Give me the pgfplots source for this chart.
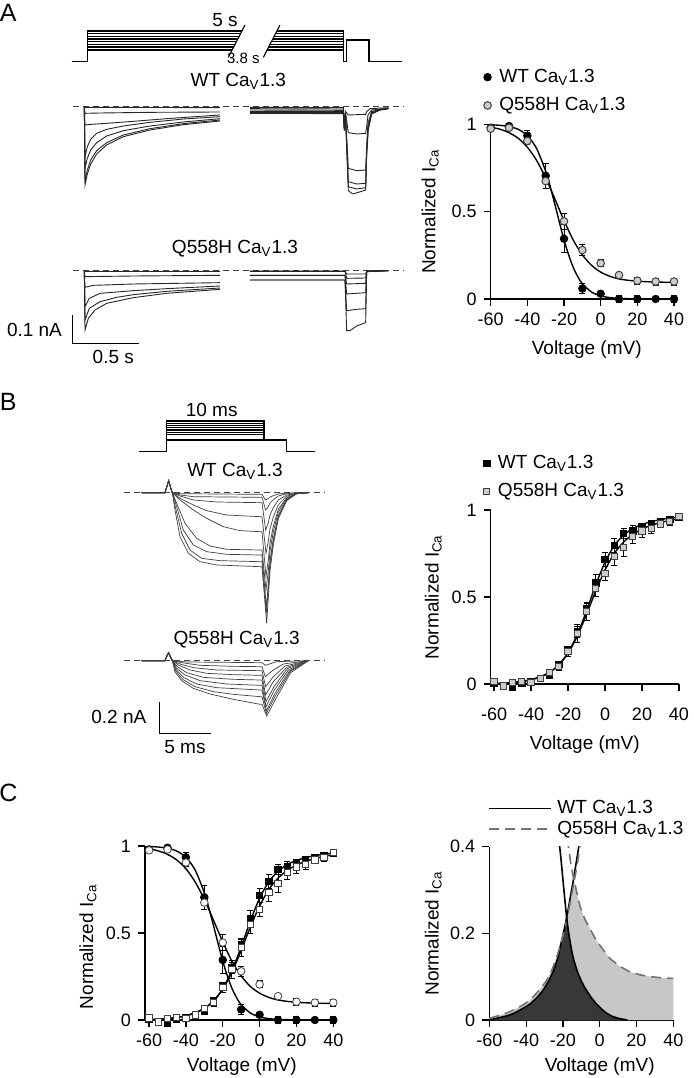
\documentclass[border=0pt]{standalone}
\usepackage{fontspec}
\setmainfont{Liberation Sans}
\usepackage{pgfplots}
\usepackage{pgfplotstable}
\pgfplotsset{compat=1.18}

\newcommand{\cav}{Ca\textsubscript{V}1.3}
\newcommand{\lab}{\fontsize{9.5}{11}\selectfont}

% inactivation (panel A, C)
\pgfplotstableread{
V y e
-60 0.98 0.005
-50 0.99 0.01
-40 0.935 0.03
-30 0.705 0.07
-20 0.345 0.08
-10 0.06 0.03
0 0.03 0.01
10 0.0 0.02
20 0.0 0.02
30 0.0 0.01
40 0.0 0.02
}\wtinact
\pgfplotstableread{
V y e
-60 0.975 0.01
-50 0.98 0.01
-40 0.905 0.02
-30 0.675 0.04
-20 0.445 0.045
-10 0.28 0.03
0 0.205 0.02
10 0.137 0.015
20 0.105 0.02
30 0.10 0.02
40 0.10 0.02
}\qinact
% activation (panel B, C)
\pgfplotstableread{
V y e
-60 0.005 0.005
-55 -0.012 0.005
-50 -0.018 0.01
-45 0.005 0.005
-40 0.012 0.005
-35 0.033 0.01
-30 0.05 0.01
-25 0.112 0.015
-20 0.195 0.02
-15 0.30 0.03
-10 0.435 0.03
-5 0.58 0.05
0 0.715 0.04
5 0.795 0.04
10 0.866 0.03
15 0.88 0.03
20 0.905 0.02
25 0.922 0.02
30 0.935 0.015
35 0.946 0.01
40 0.958 0.01
}\wtact
\pgfplotstableread{
V y e
-60 0.013 0.005
-55 -0.012 0.005
-50 0.01 0.005
-45 0.015 0.005
-40 0.01 0.005
-35 0.03 0.01
-30 0.067 0.01
-25 0.10 0.02
-20 0.186 0.03
-15 0.29 0.05
-10 0.416 0.05
-5 0.55 0.05
0 0.636 0.04
5 0.732 0.05
10 0.785 0.05
15 0.847 0.04
20 0.88 0.04
25 0.895 0.03
30 0.92 0.02
35 0.933 0.02
40 0.962 0.01
}\qact

\pgfplotsset{
  canvas/.style={scale only axis, hide axis, clip=false, y dir=reverse, xmin=0, xmax=1260, ymin=0},
  proto/.style={black, line width=0.55pt, mark=none},
  tr/.style={black!85, line width=0.45pt, mark=none},
  trb/.style={black!75, line width=0.35pt, mark=none},
  zero/.style={black!75, line width=0.5pt, dash pattern=on 3pt off 2pt, mark=none},
  ivplot/.style={scale only axis, axis lines*=left, tick align=outside, major tick length=3.5pt,
    axis line style={line width=0.6pt}, tick style={black, line width=0.6pt},
    /pgf/number format/assume math mode=true, clip=false,
    xtick={-60,-40,...,40}, ymin=0,
    tick label style={font=\fontsize{9}{10}\selectfont},
    label style={font=\lab},
    xlabel={Voltage (mV)}, ylabel={Normalized I\textsubscript{Ca}},
    legend cell align=left},
  lg/.style={legend style={draw=none, fill=none, font=\lab, anchor=north west,
      at={(axis description cs:#1)},
      row sep=4pt, column sep=3pt, inner sep=0pt, nodes={inner sep=1pt}}},
  errs/.style={error bars/y dir=both, error bars/y explicit,
    error bars/error bar style={line width=0.5pt, black},
    error bars/error mark options={rotate=90, mark size=1.5pt, line width=0.5pt, black}},
  wtm/.style={only marks, mark=*, mark size=1.9pt, mark options={fill=black, draw=black, line width=0.4pt}, errs},
  qm/.style={only marks, mark=*, mark size=1.9pt, mark options={fill=black!20, draw=black!75, line width=0.5pt}, errs},
  wts/.style={only marks, mark=square*, mark size=1.6pt, mark options={fill=black, draw=black, line width=0.4pt}, errs},
  qs/.style={only marks, mark=square*, mark size=1.6pt, mark options={fill=black!20, draw=black!75, line width=0.5pt}, errs},
  fit/.style={black, line width=0.7pt, smooth, mark=none},
}

\begin{document}
\begin{tikzpicture}
\path[use as bounding box] (0,0) rectangle (346.5pt,539pt);

% ---------------- panel A traces ----------------
\begin{axis}[canvas, at={(0pt,539pt)}, anchor=north west, width=210pt, height=200pt, ymax=1200]
\node[font=\fontsize{12.5}{14}\selectfont] at (axis cs:25,40) {A};
% protocol
\addplot[proto] coordinates {(215,185) (262,185) (262,93) (725.7,93)};
\addplot[proto] coordinates {(262,101) (721.6,101)};
\addplot[proto] coordinates {(262,109) (717.5,109)};
\addplot[proto] coordinates {(262,117) (713.3,117)};
\addplot[proto] coordinates {(262,125) (709.2,125)};
\addplot[proto] coordinates {(262,133) (705.1,133)};
\addplot[proto] coordinates {(262,141) (701.0,141)};
\addplot[proto] coordinates {(262,150) (696.3,150)};
\addplot[proto] coordinates {(830.7,93) (1030,93) (1030,185) (1040,185) (1040,120) (1107,120) (1107,185) (1205,185)};
\addplot[proto] coordinates {(826.6,101) (1030,101)};
\addplot[proto] coordinates {(822.5,109) (1030,109)};
\addplot[proto] coordinates {(818.3,117) (1030,117)};
\addplot[proto] coordinates {(814.2,125) (1030,125)};
\addplot[proto] coordinates {(810.1,133) (1030,133)};
\addplot[proto] coordinates {(806.0,141) (1030,141)};
\addplot[proto] coordinates {(801.3,150) (1030,150)};
\addplot[proto] coordinates {(735,75) (685,172)};
\addplot[proto] coordinates {(840,75) (790,172)};
\node[font=\lab] at (axis cs:675,60) {5 s};
\node[font=\fontsize{7.5}{9}\selectfont] at (axis cs:730,176) {3.8 s};
% WT
\node[font=\lab] at (axis cs:715,245) {WT \cav};
\addplot[zero] coordinates {(218,320) (1210,320)};
\addplot[tr] coordinates {(253,322) (660,323)};
\addplot[tr] coordinates {(253,320) (255,340) (300,339) (450,337) (660,336)};
\addplot[tr] coordinates {(253,320) (255,375) (275,373) (320,370) (400,364) (500,356) (600,349) (660,345)};
\addplot[tr] coordinates {(253,320) (255,470) (262,440) (272,418) (290,400) (320,388) (370,378) (450,367) (550,357) (660,350)};
\addplot[tr] coordinates {(253,320) (255,505) (262,475) (272,450) (290,428) (320,408) (370,392) (450,378) (550,366) (660,356)};
\addplot[tr] coordinates {(253,320) (255,540) (262,510) (272,480) (290,452) (320,428) (370,405) (450,386) (550,371) (660,360)};
\addplot[tr] coordinates {(253,320) (255,555) (262,522) (272,492) (290,462) (320,435) (370,410) (450,390) (550,374) (660,363)};
\addplot[tr] coordinates {(750,322) (1030,323) (1033,360) (1037,335) (1045,345) (1097,343) (1100,335) (1110,326) (1165,323)};
\addplot[tr] coordinates {(750,326) (1030,327) (1033,375) (1037,340) (1045,398) (1070,402) (1097,400) (1100,380) (1104,345) (1115,330) (1165,325)};
\addplot[tr] coordinates {(750,330) (1030,331) (1033,385) (1037,350) (1045,505) (1070,512) (1097,510) (1100,440) (1104,370) (1115,335) (1140,328) (1165,326)};
\addplot[tr] coordinates {(750,334) (1030,335) (1033,388) (1037,355) (1045,545) (1070,552) (1097,550) (1100,455) (1104,380) (1115,338) (1140,329) (1165,326)};
\addplot[tr] coordinates {(750,337) (1030,338) (1033,390) (1037,358) (1045,560) (1070,567) (1097,563) (1100,460) (1104,385) (1115,340) (1140,330) (1165,326)};
\addplot[tr] coordinates {(750,340) (1030,341) (1033,392) (1037,360) (1045,572) (1058,582) (1075,577) (1097,570) (1100,465) (1105,390) (1115,342) (1140,330) (1165,326)};
% Q558H
\node[font=\lab] at (axis cs:705,745) {Q558H \cav};
\addplot[zero] coordinates {(218,812) (1210,812)};
\addplot[tr] coordinates {(253,814) (660,814)};
\addplot[tr] coordinates {(253,812) (255,830) (400,828) (660,826)};
\addplot[tr] coordinates {(253,812) (255,862) (280,856) (400,852) (660,848)};
\addplot[tr] coordinates {(253,812) (255,920) (268,895) (300,880) (400,872) (500,866) (660,858)};
\addplot[tr] coordinates {(253,812) (255,960) (268,925) (300,905) (350,892) (400,884) (500,874) (660,864)};
\addplot[tr] coordinates {(253,812) (255,990) (265,955) (285,930) (320,910) (400,893) (500,880) (660,868)};
\addplot[tr] coordinates {(750,813) (1035,813) (1040,822) (1097,822) (1100,813) (1165,812)};
\addplot[tr] coordinates {(750,814) (1035,814) (1040,835) (1097,834) (1100,813) (1165,812)};
\addplot[tr] coordinates {(750,826) (1035,826) (1040,852) (1097,850) (1100,814) (1165,812)};
\addplot[tr] coordinates {(750,826) (1035,826) (1040,882) (1070,880) (1097,878) (1100,814) (1165,812)};
\addplot[tr] coordinates {(750,840) (1035,840) (1040,932) (1070,928) (1097,926) (1100,815) (1165,812)};
\addplot[tr] coordinates {(750,840) (1035,840) (1040,992) (1050,992) (1070,978) (1097,968) (1100,815) (1165,812)};
% scale bar
\addplot[proto, line width=0.6pt] coordinates {(218,945) (218,1030) (418,1030)};
\node[font=\lab, anchor=east] at (axis cs:207,990) {0.1 nA};
\node[font=\lab] at (axis cs:340,1070) {0.5 s};
\end{axis}

% ---------------- panel B traces ----------------
\begin{axis}[canvas, at={(0pt,344pt)}, anchor=north west, width=210pt, height=165pt, ymax=990]
\node[font=\fontsize{12.5}{14}\selectfont] at (axis cs:25,35) {B};
\node[font=\fontsize{12.5}{14}\selectfont] at (axis cs:25,1209) {C};
\addplot[proto] coordinates {(418,185) (500,185) (500,93) (792,93) (792,150)};
\addplot[proto] coordinates {(500,100) (792,100)};
\addplot[proto] coordinates {(500,106) (792,106)};
\addplot[proto] coordinates {(500,113) (792,113)};
\addplot[proto] coordinates {(500,120) (792,120)};
\addplot[proto] coordinates {(500,127) (792,127)};
\addplot[proto] coordinates {(500,134) (792,134)};
\addplot[proto] coordinates {(500,150) (860,150) (860,185) (945,185)};
\node[font=\lab] at (axis cs:635,60) {10 ms};
% WT
\node[font=\lab] at (axis cs:705,245) {WT \cav};
\addplot[zero] coordinates {(372,308) (975,308)};
\addplot[trb] coordinates {(425,308) (495,308) (502,285) (506,272) (511,290) (517,308) (540,311) (780,313) (786,313) (796,330) (805,326) (810,321) (820,317) (835,312) (860,309) (925,308)};
\addplot[trb] coordinates {(425,308) (495,308) (502,285) (506,272) (511,290) (517,308) (540,315) (580,320) (780,322) (786,322) (797,360) (805,350) (810,339) (820,329) (835,318) (860,311) (890,309) (925,308)};
\addplot[trb] coordinates {(425,308) (495,308) (502,285) (506,272) (511,290) (517,308) (540,318) (580,330) (650,336) (780,338) (786,338) (797,420) (805,398) (810,375) (820,353) (835,330) (860,315) (890,310) (925,308)};
\addplot[trb] coordinates {(425,308) (495,308) (502,285) (506,272) (511,290) (517,308) (540,325) (580,345) (620,362) (680,375) (780,380) (786,380) (798,490) (805,454) (810,417) (820,381) (835,344) (860,319) (890,310) (925,308)};
\addplot[trb] coordinates {(425,308) (495,308) (502,285) (506,272) (511,290) (517,308) (540,330) (580,360) (620,385) (670,410) (720,422) (780,425) (786,425) (798,560) (805,510) (810,459) (820,409) (835,358) (860,323) (890,311) (925,308)};
\addplot[trb] coordinates {(425,308) (495,308) (502,285) (506,272) (511,290) (517,308) (530,340) (555,400) (590,445) (630,468) (680,478) (780,480) (786,480) (798,600) (805,542) (810,483) (820,425) (835,366) (860,326) (890,311) (925,308)};
\addplot[trb] coordinates {(425,308) (495,308) (502,285) (506,272) (511,290) (517,308) (530,350) (550,420) (580,465) (620,485) (680,493) (780,495) (786,495) (799,650) (805,582) (810,513) (820,445) (835,376) (860,329) (890,311) (925,308)};
\addplot[trb] coordinates {(425,308) (495,308) (502,285) (506,272) (511,290) (517,308) (527,355) (545,430) (570,480) (605,505) (660,512) (780,515) (786,515) (799,670) (805,598) (810,525) (820,453) (835,380) (860,330) (890,311) (925,308)};
\addplot[trb] coordinates {(425,308) (495,308) (502,285) (506,272) (511,290) (517,308) (525,360) (540,440) (565,490) (600,515) (650,525) (780,530) (786,530) (800,700) (805,622) (810,543) (820,465) (835,386) (860,332) (890,311) (925,308)};
% Q558H
\node[font=\lab] at (axis cs:710,750) {Q558H \cav};
\addplot[zero] coordinates {(372,812) (975,812)};
\addplot[trb] coordinates {(425,812) (495,812) (502,795) (506,788) (511,800) (517,812) (560,816) (780,818) (786,818) (796,826) (830,815) (925,812)};
\addplot[trb] coordinates {(425,812) (495,812) (502,795) (506,788) (511,800) (517,812) (545,818) (600,826) (700,829) (780,830) (786,830) (796,860) (820,840) (850,822) (925,812)};
\addplot[trb] coordinates {(425,812) (495,812) (502,795) (506,788) (511,800) (517,812) (540,822) (580,833) (650,840) (780,842) (786,842) (797,890) (820,860) (855,828) (925,812)};
\addplot[trb] coordinates {(425,812) (495,812) (502,795) (506,788) (511,800) (517,812) (535,825) (570,840) (620,850) (700,854) (780,856) (786,856) (797,915) (820,875) (860,832) (925,812)};
\addplot[trb] coordinates {(425,812) (495,812) (502,795) (506,788) (511,800) (517,812) (532,830) (560,848) (610,862) (700,868) (780,870) (786,870) (798,935) (822,890) (862,836) (925,812)};
\addplot[trb] coordinates {(425,812) (495,812) (502,795) (506,788) (511,800) (517,812) (530,835) (555,855) (600,872) (680,882) (780,886) (786,886) (798,950) (823,900) (865,840) (925,812)};
\addplot[trb] coordinates {(425,812) (495,812) (502,795) (506,788) (511,800) (517,812) (528,838) (550,862) (590,882) (650,893) (780,900) (786,900) (799,962) (825,910) (868,843) (925,812)};
\addplot[trb] coordinates {(425,812) (495,812) (502,795) (506,788) (511,800) (517,812) (527,842) (548,868) (585,890) (640,905) (700,913) (780,920) (786,920) (799,970) (826,918) (870,845) (925,812)};
\addplot[trb] coordinates {(425,812) (495,812) (502,795) (506,788) (511,800) (517,812) (525,845) (545,872) (580,895) (630,912) (700,928) (780,943) (786,943) (800,978) (828,925) (872,848) (925,812)};
% scale bar
\addplot[proto, line width=0.6pt] coordinates {(478,935) (478,1030) (632,1030)};
\node[font=\lab, anchor=east] at (axis cs:460,980) {0.2 nA};
\node[font=\lab] at (axis cs:555,1070) {5 ms};
\end{axis}

% ---------------- panel A right: inactivation ----------------
\begin{axis}[ivplot, lg={-0.04,1.33}, at={(245.35pt,389.5pt)}, anchor=south west, width=91.65pt, height=87.35pt,
  xmin=-60, xmax=40, ymax=1, ytick={0,0.5,1},
  ylabel style={at={(axis description cs:-0.33,0.5)}, anchor=center},
  xlabel style={at={(axis description cs:0.524,-0.292)}, anchor=center}]
\addplot[wtm] table[x=V, y=y, y error=e] {\wtinact};
\addlegendentry{WT \cav}
\addplot[qm] table[x=V, y=y, y error=e] {\qinact};
\addlegendentry{Q558H \cav}
\addplot[fit, forget plot] coordinates {(-60,0.9975) (-55,0.994) (-50,0.987) (-45,0.971) (-40,0.935) (-35,0.862) (-30,0.731) (-27.5,0.642) (-25,0.542) (-22.5,0.438) (-20,0.339) (-17.5,0.253) (-15,0.182) (-12.5,0.128) (-10,0.088) (-5,0.040) (0,0.018) (5,0.008) (10,0.0035) (20,0.0007) (30,0.0001) (40,0)};
\addplot[fit, forget plot] coordinates {(-60,0.984) (-55,0.972) (-50,0.952) (-45,0.920) (-40,0.869) (-35,0.794) (-30,0.693) (-25,0.573) (-20,0.449) (-15,0.338) (-10,0.253) (-5,0.193) (0,0.154) (5,0.130) (10,0.115) (15,0.107) (20,0.102) (25,0.099) (30,0.097) (35,0.096) (40,0.0955)};
\end{axis}

% ---------------- panel B right: activation ----------------
\begin{axis}[ivplot, lg={-0.04,1.33}, at={(245.35pt,197pt)}, anchor=south west, width=94.15pt, height=87pt,
  xmin=-61.8, xmax=40, ymax=1, ytick={0,0.5,1},
  xticklabel style={yshift=-5pt},
  ylabel style={at={(axis description cs:-0.305,0.5)}, anchor=center},
  xlabel style={at={(axis description cs:0.5,-0.35)}, anchor=center}]
\addplot[wts] table[x=V, y=y, y error=e] {\wtact};
\addlegendentry{WT \cav}
\addplot[qs] table[x=V, y=y, y error=e] {\qact};
\addlegendentry{Q558H \cav}
\addplot[fit, forget plot] coordinates {(-60,0.002) (-55,0.004) (-50,0.008) (-45,0.014) (-40,0.024) (-35,0.04) (-30,0.066) (-25,0.11) (-20,0.18) (-15,0.285) (-10,0.42) (-5,0.57) (0,0.70) (5,0.795) (10,0.855) (15,0.893) (20,0.917) (25,0.933) (30,0.945) (35,0.953) (40,0.96)};
\addplot[fit, forget plot] coordinates {(-60,0.003) (-55,0.005) (-50,0.009) (-45,0.015) (-40,0.025) (-35,0.042) (-30,0.068) (-25,0.11) (-20,0.176) (-15,0.275) (-10,0.40) (-5,0.535) (0,0.655) (5,0.75) (10,0.815) (15,0.86) (20,0.89) (25,0.912) (30,0.928) (35,0.94) (40,0.95)};
\end{axis}

% ---------------- panel C left: overlay ----------------
\begin{axis}[ivplot, at={(72.5pt,29pt)}, anchor=south west, width=94.15pt, height=87pt,
  xmin=-62.2, xmax=40, ymax=1, ytick={0,0.5,1},
  ylabel style={at={(axis description cs:-0.303,0.42)}, anchor=center},
  xlabel style={at={(axis description cs:0.514,-0.268)}, anchor=center}]
\addplot[fit] coordinates {(-60,0.9975) (-55,0.994) (-50,0.987) (-45,0.971) (-40,0.935) (-35,0.862) (-30,0.731) (-27.5,0.642) (-25,0.542) (-22.5,0.438) (-20,0.339) (-17.5,0.253) (-15,0.182) (-12.5,0.128) (-10,0.088) (-5,0.040) (0,0.018) (5,0.008) (10,0.0035) (20,0.0007) (30,0.0001) (40,0)};
\addplot[fit] coordinates {(-60,0.984) (-55,0.972) (-50,0.952) (-45,0.920) (-40,0.869) (-35,0.794) (-30,0.693) (-25,0.573) (-20,0.449) (-15,0.338) (-10,0.253) (-5,0.193) (0,0.154) (5,0.130) (10,0.115) (15,0.107) (20,0.102) (25,0.099) (30,0.097) (35,0.096) (40,0.0955)};
\addplot[fit] coordinates {(-60,0.002) (-55,0.004) (-50,0.008) (-45,0.014) (-40,0.024) (-35,0.04) (-30,0.066) (-25,0.11) (-20,0.18) (-15,0.285) (-10,0.42) (-5,0.57) (0,0.70) (5,0.795) (10,0.855) (15,0.893) (20,0.917) (25,0.933) (30,0.945) (35,0.953) (40,0.96)};
\addplot[fit] coordinates {(-60,0.003) (-55,0.005) (-50,0.009) (-45,0.015) (-40,0.025) (-35,0.042) (-30,0.068) (-25,0.11) (-20,0.176) (-15,0.275) (-10,0.40) (-5,0.535) (0,0.655) (5,0.75) (10,0.815) (15,0.86) (20,0.89) (25,0.912) (30,0.928) (35,0.94) (40,0.95)};
\addplot[wts] table[x=V, y=y, y error=e] {\wtact};
\addplot[qs, mark options={fill=white, draw=black!75}] table[x=V, y=y, y error=e] {\qact};
\addplot[wtm] table[x=V, y=y, y error=e] {\wtinact};
\addplot[qm, mark options={fill=white, draw=black!75}] table[x=V, y=y, y error=e] {\qinact};
\end{axis}

% ---------------- panel C right: window current ----------------
\begin{axis}[ivplot, at={(244.65pt,29pt)}, anchor=south west, width=92pt, height=86.67pt,
  xmin=-60, xmax=40, ymax=0.4, ytick={0,0.2,0.4}, clip=true,
  ylabel style={at={(axis description cs:-0.304,0.5)}, anchor=center},
  xlabel style={at={(axis description cs:0.6,-0.27)}, anchor=center},
  legend style={draw=none, fill=none, font=\lab, anchor=north west, at={(axis description cs:-0.01,1.28)},
    row sep=0pt, column sep=2pt, inner sep=0pt, nodes={inner sep=1pt}},
  legend image code/.code={\draw[#1] (0pt,0pt) -- (31pt,0pt);}]
\addplot[fill=black!22, draw=none, forget plot] coordinates {(-60,0.004) (-55,0.01) (-50,0.017) (-46.9,0.023) (-42,0.034) (-37.8,0.046) (-33,0.068) (-28.7,0.092) (-26,0.115) (-23.3,0.146) (-21,0.178) (-18.7,0.215) (-17,0.25) (-15.1,0.292) (-14.1,0.322) (-13,0.305) (-12,0.285) (-10.5,0.26) (-8,0.232) (-5,0.208) (-2,0.185) (2.2,0.16) (6,0.14) (11.3,0.123) (16,0.112) (22,0.104) (28,0.1) (34,0.097) (40,0.096)} \closedcycle;
\addplot[fill=black!78, draw=none, forget plot] coordinates {(-60,0.0) (-55,0.005) (-50,0.01) (-46.9,0.015) (-42,0.026) (-37.8,0.037) (-34,0.052) (-30.5,0.07) (-27.5,0.092) (-25,0.115) (-23,0.14) (-21.5,0.168) (-20,0.195) (-18,0.236) (-17,0.205) (-16,0.178) (-15,0.155) (-14,0.137) (-12,0.11) (-10,0.09) (-8,0.074) (-5,0.054) (-2,0.038) (1,0.025) (4,0.015) (7,0.008) (11,0.003) (15,0.0)} \closedcycle;
\addplot[black, line width=0.8pt, mark=none] coordinates {(-60,0.0) (-55,0.005) (-50,0.01) (-46.9,0.015) (-42,0.026) (-37.8,0.037) (-34,0.052) (-30.5,0.07) (-27.5,0.092) (-25,0.115) (-23,0.14) (-21.5,0.168) (-20,0.195) (-18.5,0.225) (-17,0.258) (-15.5,0.295) (-14,0.33) (-12.5,0.37) (-11,0.41)};
\addlegendentry{WT \cav}
\addplot[black!55, line width=0.8pt, dash pattern=on 5pt off 3pt, mark=none] coordinates {(-60,0.004) (-55,0.01) (-50,0.017) (-46.9,0.023) (-42,0.034) (-37.8,0.046) (-33,0.068) (-28.7,0.092) (-26,0.115) (-23.3,0.146) (-21,0.178) (-18.7,0.215) (-17,0.25) (-15.1,0.292) (-14,0.318) (-13,0.34) (-12,0.365) (-10.5,0.41)};
\addlegendentry{Q558H \cav}
\addplot[black, line width=0.8pt, mark=none, forget plot] coordinates {(-22,0.41) (-21,0.37) (-20,0.325) (-19,0.28) (-18,0.238) (-17,0.205) (-16,0.178) (-15,0.155) (-14,0.137) (-12,0.11) (-10,0.09) (-8,0.074) (-5,0.054) (-2,0.038) (1,0.025) (4,0.015) (7,0.008) (11,0.003) (15,0.0)};
\addplot[black!55, line width=0.8pt, dash pattern=on 5pt off 3pt, mark=none, forget plot] coordinates {(-17.5,0.42) (-17,0.40) (-16,0.37) (-15,0.345) (-14.2,0.328) (-13,0.305) (-12,0.285) (-10.5,0.26) (-8,0.232) (-5,0.208) (-2,0.185) (2.2,0.16) (6,0.14) (11.3,0.123) (16,0.112) (22,0.104) (28,0.1) (34,0.097) (40,0.096)};
\end{axis}
\end{tikzpicture}
\end{document}
